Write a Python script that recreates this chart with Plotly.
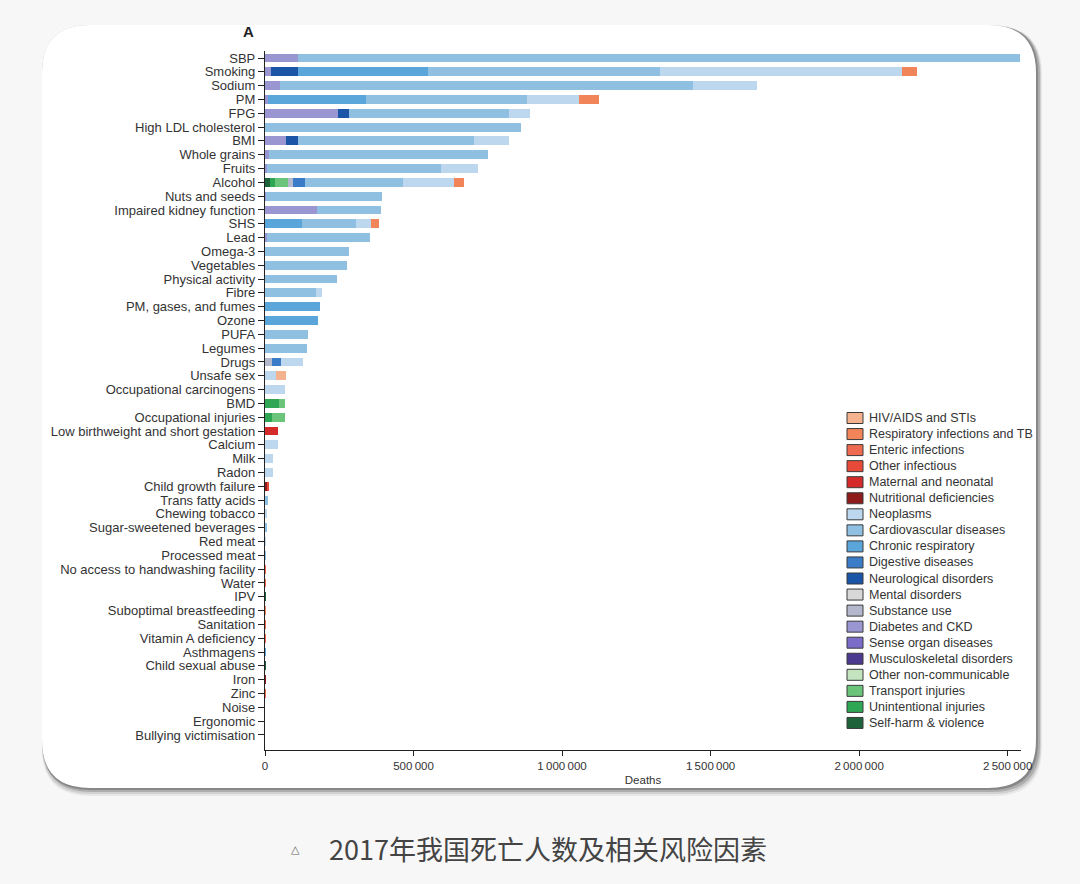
import plotly.graph_objects as go

# ---------------- data ----------------
categories = [
    "SBP", "Smoking", "Sodium", "PM", "FPG", "High LDL cholesterol", "BMI", "Whole grains", "Fruits", "Alcohol",
    "Nuts and seeds", "Impaired kidney function", "SHS", "Lead", "Omega-3", "Vegetables", "Physical activity", "Fibre", "PM, gases, and fumes", "Ozone",
    "PUFA", "Legumes", "Drugs", "Unsafe sex", "Occupational carcinogens", "BMD", "Occupational injuries", "Low birthweight and short gestation", "Calcium", "Milk",
    "Radon", "Child growth failure", "Trans fatty acids", "Chewing tobacco", "Sugar-sweetened beverages", "Red meat", "Processed meat", "No access to handwashing facility", "Water", "IPV",
    "Suboptimal breastfeeding", "Sanitation", "Vitamin A deficiency", "Asthmagens", "Child sexual abuse", "Iron", "Zinc", "Noise", "Ergonomic", "Bullying victimisation",
]

# deaths by cause group, one value per risk factor (same order as categories)
self_harm = [
    0, 0, 0, 0, 0, 0, 0, 0, 0, 17000,
    0, 0, 0, 0, 0, 0, 0, 0, 0, 0,
    0, 0, 0, 0, 0, 0, 0, 0, 0, 0,
    0, 0, 0, 0, 0, 0, 0, 0, 0, 500,
    0, 0, 0, 0, 300, 0, 0, 0, 0, 0,
]
unintentional = [
    0, 0, 0, 0, 0, 0, 0, 0, 0, 17000,
    0, 0, 0, 0, 0, 0, 0, 0, 0, 0,
    0, 0, 0, 0, 0, 47000, 22000, 0, 0, 0,
    0, 0, 0, 0, 0, 0, 0, 0, 0, 0,
    0, 0, 0, 0, 0, 0, 0, 0, 0, 0,
]
transport = [
    0, 0, 0, 0, 0, 0, 0, 0, 0, 45000,
    0, 0, 0, 0, 0, 0, 0, 0, 0, 0,
    0, 0, 0, 0, 0, 20000, 45000, 0, 0, 0,
    0, 0, 0, 0, 0, 0, 0, 0, 0, 0,
    0, 0, 0, 0, 0, 0, 0, 0, 0, 0,
]
other_ncd = [
    0, 0, 0, 0, 0, 0, 0, 0, 0, 0,
    0, 0, 0, 0, 0, 0, 0, 0, 0, 0,
    0, 0, 0, 0, 0, 0, 0, 0, 0, 0,
    0, 0, 0, 0, 0, 0, 0, 0, 0, 0,
    0, 0, 0, 0, 0, 0, 0, 0, 0, 0,
]
musculoskeletal = [
    0, 0, 0, 0, 0, 0, 0, 0, 0, 0,
    0, 0, 0, 0, 0, 0, 0, 0, 0, 0,
    0, 0, 0, 0, 0, 0, 0, 0, 0, 0,
    0, 0, 0, 0, 0, 0, 0, 0, 0, 0,
    0, 0, 0, 0, 0, 0, 0, 0, 0, 0,
]
sense_organ = [
    0, 0, 0, 0, 0, 0, 0, 0, 0, 0,
    0, 0, 0, 0, 0, 0, 0, 0, 0, 0,
    0, 0, 0, 0, 0, 0, 0, 0, 0, 0,
    0, 0, 0, 0, 0, 0, 0, 0, 0, 0,
    0, 0, 0, 0, 0, 0, 0, 0, 0, 0,
]
diabetes_ckd = [
    112000, 20000, 50000, 10000, 246000, 0, 69000, 13000, 6000, 0,
    5000, 175000, 0, 7000, 0, 0, 0, 0, 0, 0,
    0, 0, 0, 0, 0, 0, 0, 0, 0, 0,
    0, 0, 0, 0, 2000, 0, 0, 0, 0, 0,
    0, 0, 0, 0, 0, 0, 0, 0, 0, 0,
]
substance_use = [
    0, 0, 0, 0, 0, 0, 0, 0, 0, 15000,
    0, 0, 0, 0, 0, 0, 0, 0, 0, 0,
    0, 0, 22000, 0, 0, 0, 0, 0, 0, 0,
    0, 0, 0, 0, 0, 0, 0, 0, 0, 0,
    0, 0, 0, 0, 0, 0, 0, 0, 0, 0,
]
mental = [
    0, 0, 0, 0, 0, 0, 0, 0, 0, 0,
    0, 0, 0, 0, 0, 0, 0, 0, 0, 0,
    0, 0, 0, 0, 0, 0, 0, 0, 0, 0,
    0, 0, 0, 0, 0, 0, 0, 0, 0, 0,
    0, 0, 0, 0, 0, 0, 0, 0, 0, 0,
]
neurological = [
    0, 92000, 0, 0, 36000, 0, 43000, 0, 0, 0,
    0, 0, 0, 0, 0, 0, 0, 0, 0, 0,
    0, 0, 0, 0, 0, 0, 0, 0, 0, 0,
    0, 0, 0, 0, 0, 0, 0, 0, 0, 0,
    0, 0, 0, 0, 0, 0, 0, 0, 0, 0,
]
digestive = [
    0, 0, 0, 0, 0, 0, 0, 0, 0, 41000,
    0, 0, 0, 0, 0, 0, 0, 0, 0, 0,
    0, 0, 31000, 0, 0, 0, 0, 0, 0, 0,
    0, 0, 0, 0, 0, 0, 0, 0, 0, 0,
    0, 0, 0, 0, 0, 0, 0, 0, 0, 0,
]
chronic_resp = [
    0, 437000, 0, 330000, 0, 0, 0, 0, 0, 0,
    0, 0, 123000, 0, 0, 0, 0, 0, 186000, 177000,
    0, 0, 0, 0, 0, 0, 0, 0, 0, 0,
    0, 0, 0, 0, 0, 0, 0, 0, 0, 0,
    0, 0, 0, 500, 0, 0, 0, 0, 0, 0,
]
cardiovascular = [
    2429000, 781000, 1390000, 542000, 538000, 863000, 592000, 739000, 586000, 331000,
    388000, 215000, 183000, 348000, 284000, 277000, 244000, 170000, 0, 0,
    146000, 141000, 0, 0, 0, 0, 0, 0, 0, 0,
    0, 0, 9000, 0, 2000, 0, 1000, 0, 0, 0,
    0, 0, 0, 0, 0, 0, 0, 0, 0, 0,
]
neoplasms = [
    0, 814000, 215000, 174000, 71000, 0, 119000, 0, 124000, 171000,
    0, 0, 50000, 0, 0, 0, 0, 23000, 0, 0,
    0, 0, 75000, 36000, 67000, 0, 0, 0, 45000, 28000,
    28000, 0, 0, 6000, 0, 1000, 0, 0, 0, 0,
    0, 0, 0, 0, 0, 0, 0, 0, 0, 0,
]
nutritional = [
    0, 0, 0, 0, 0, 0, 0, 0, 0, 0,
    0, 0, 0, 0, 0, 0, 0, 0, 0, 0,
    0, 0, 0, 0, 0, 0, 0, 0, 0, 0,
    0, 6000, 0, 0, 0, 0, 0, 0, 0, 0,
    0, 0, 0, 0, 0, 100, 0, 0, 0, 0,
]
maternal_neonatal = [
    0, 0, 0, 0, 0, 0, 0, 0, 0, 0,
    0, 0, 0, 0, 0, 0, 0, 0, 0, 0,
    0, 0, 0, 0, 0, 0, 0, 44000, 0, 0,
    0, 0, 0, 0, 0, 0, 0, 0, 0, 0,
    0, 0, 0, 0, 0, 0, 0, 0, 0, 0,
]
other_infectious = [
    0, 0, 0, 0, 0, 0, 0, 0, 0, 0,
    0, 0, 0, 0, 0, 0, 0, 0, 0, 0,
    0, 0, 0, 0, 0, 0, 0, 0, 0, 0,
    0, 8000, 0, 0, 0, 0, 0, 0, 0, 0,
    0, 0, 0, 0, 0, 0, 0, 0, 0, 0,
]
enteric = [
    0, 0, 0, 0, 0, 0, 0, 0, 0, 0,
    0, 0, 0, 0, 0, 0, 0, 0, 0, 0,
    0, 0, 0, 0, 0, 0, 0, 0, 0, 0,
    0, 0, 0, 0, 0, 0, 0, 600, 800, 0,
    0, 400, 200, 0, 0, 0, 50, 0, 0, 0,
]
respiratory_inf = [
    0, 52000, 0, 67000, 0, 0, 0, 0, 0, 33000,
    0, 0, 28000, 0, 0, 0, 0, 0, 0, 0,
    0, 0, 0, 0, 0, 0, 0, 0, 0, 0,
    0, 0, 0, 0, 0, 0, 0, 0, 0, 0,
    500, 0, 0, 0, 0, 0, 0, 0, 0, 0,
]
hiv_sti = [
    0, 0, 0, 0, 0, 0, 0, 0, 0, 0,
    0, 0, 0, 0, 0, 0, 0, 0, 0, 0,
    0, 0, 0, 35000, 0, 0, 0, 0, 0, 0,
    0, 0, 0, 0, 0, 0, 0, 0, 0, 0,
    0, 0, 0, 0, 0, 0, 0, 0, 0, 0,
]

# legend order (top to bottom): name, colour, values
causes = [
    ("HIV/AIDS and STIs", "#f4b38e", hiv_sti),
    ("Respiratory infections and TB", "#f2845a", respiratory_inf),
    ("Enteric infections", "#ee6a50", enteric),
    ("Other infectious", "#e84a3a", other_infectious),
    ("Maternal and neonatal", "#d42a2a", maternal_neonatal),
    ("Nutritional deficiencies", "#8e1c1c", nutritional),
    ("Neoplasms", "#bcd7ee", neoplasms),
    ("Cardiovascular diseases", "#8fc0e2", cardiovascular),
    ("Chronic respiratory", "#5aa5da", chronic_resp),
    ("Digestive diseases", "#3a7cc8", digestive),
    ("Neurological disorders", "#1a55a8", neurological),
    ("Mental disorders", "#d8d8d8", mental),
    ("Substance use", "#b4b8cc", substance_use),
    ("Diabetes and CKD", "#9a96d2", diabetes_ckd),
    ("Sense organ diseases", "#7a6cc8", sense_organ),
    ("Musculoskeletal disorders", "#4b3a90", musculoskeletal),
    ("Other non-communicable", "#c4e4c0", other_ncd),
    ("Transport injuries", "#6ac47a", transport),
    ("Unintentional injuries", "#2ea654", unintentional),
    ("Self-harm & violence", "#1d6238", self_harm),
]
# stacking order, left to right along each bar
stack_order = [
    "Self-harm & violence", "Unintentional injuries", "Transport injuries", "Other non-communicable",
    "Musculoskeletal disorders", "Sense organ diseases", "Diabetes and CKD", "Substance use",
    "Mental disorders", "Neurological disorders", "Digestive diseases", "Chronic respiratory",
    "Cardiovascular diseases", "Neoplasms", "Nutritional deficiencies", "Maternal and neonatal",
    "Other infectious", "Enteric infections", "Respiratory infections and TB", "HIV/AIDS and STIs",
]

x_tickvals = [0, 500000, 1000000, 1500000, 2000000, 2500000]
x_ticktext = ["0", "500\u2009000", "1\u2009000\u2009000", "1\u2009500\u2009000", "2\u2009000\u2009000", "2\u2009500\u2009000"]

caption = "2017年我国死亡人数及相关风险因素"

# ---------------- layout helpers ----------------
W, H = 1080, 884
L, R, T, B = 265, 1021, 51, 750
FONT = "Liberation Sans, Arial, sans-serif"


def px(X):
    return (X - L) / (R - L)


def py(Y):
    return (B - Y) / (B - T)


def rrect(x0, y0, x1, y1, r):
    return (
        f"M {px(x0 + r)},{py(y0)} L {px(x1 - r)},{py(y0)} "
        f"Q {px(x1)},{py(y0)} {px(x1)},{py(y0 + r)} L {px(x1)},{py(y1 - r)} "
        f"Q {px(x1)},{py(y1)} {px(x1 - r)},{py(y1)} L {px(x0 + r)},{py(y1)} "
        f"Q {px(x0)},{py(y1)} {px(x0)},{py(y1 - r)} L {px(x0)},{py(y0 + r)} "
        f"Q {px(x0)},{py(y0)} {px(x0 + r)},{py(y0)} Z"
    )


fig = go.Figure()
lookup = {n: (c, v) for n, c, v in causes}
for name in stack_order:
    color, vals = lookup[name]
    fig.add_trace(go.Bar(
        y=categories, x=vals, orientation="h", name=name,
        marker=dict(color=color, line=dict(width=0)), showlegend=False,
    ))

shapes = []
# card shadow + card
cx0, cy0, cx1, cy1, cr = 42, 25, 1036, 788, 48
for dx0, dy0, dx1, dy1, op in [(0, 1, 6, 8, 0.06), (0, 1, 5, 6, 0.10), (1, 1, 4, 4, 0.16), (0, 0, 2, 2, 0.22)]:
    shapes.append(dict(type="path", xref="paper", yref="paper", layer="below",
                       path=rrect(cx0 + dx0, cy0 + dy0, cx1 + dx1, cy1 + dy1, cr),
                       fillcolor=f"rgba(0,0,0,{op})", line=dict(width=0)))
shapes.append(dict(type="path", xref="paper", yref="paper", layer="below",
                   path=rrect(cx0, cy0, cx1, cy1, cr), fillcolor="#ffffff", line=dict(width=0)))

annotations = []
# custom legend
leg_x0, leg_y0, leg_dy = 847, 418, 16.05
for i, (name, color, _) in enumerate(causes):
    yc = leg_y0 + i * leg_dy
    shapes.append(dict(type="rect", xref="paper", yref="paper",
                       x0=px(leg_x0), x1=px(leg_x0 + 16), y0=py(yc + 5.5), y1=py(yc - 5.5),
                       fillcolor=color, line=dict(color="#3a3a3a", width=1)))
    annotations.append(dict(xref="paper", yref="paper", x=px(leg_x0 + 20), y=py(yc),
                            xanchor="left", yanchor="middle", showarrow=False, text=name,
                            font=dict(family=FONT, size=12.5, color="#333333")))

annotations.append(dict(xref="paper", yref="paper", x=px(248), y=py(32), xanchor="center", yanchor="middle",
                        showarrow=False, text="<b>A</b>", font=dict(family=FONT, size=15, color="#222222")))
annotations.append(dict(xref="paper", yref="paper", x=px(295), y=py(849), xanchor="center", yanchor="middle",
                        showarrow=False, text="△", font=dict(family="DejaVu Sans", size=11, color="#666666")))
annotations.append(dict(xref="paper", yref="paper", x=px(327), y=py(848), xanchor="left", yanchor="middle",
                        showarrow=False, text=caption,
                        font=dict(family="Noto Sans CJK SC", size=27, color="#444444")))

fig.update_layout(
    width=W, height=H,
    margin=dict(l=L, r=W - R, t=T, b=H - B, pad=0),
    paper_bgcolor="#f7f7f7", plot_bgcolor="rgba(0,0,0,0)",
    barmode="stack", bargap=0.36,
    showlegend=False,
    shapes=shapes, annotations=annotations,
    xaxis=dict(
        range=[0, 2545000], tickvals=x_tickvals, ticktext=x_ticktext,
        showline=True, linecolor="#222222", linewidth=1.3, ticks="outside", ticklen=5,
        tickcolor="#222222", tickwidth=1.3, showgrid=False, zeroline=False,
        tickfont=dict(family=FONT, size=11.5, color="#333333"),
        title=dict(text="Deaths", font=dict(family=FONT, size=11.5, color="#333333"), standoff=4),
    ),
    yaxis=dict(
        type="category", categoryorder="array", categoryarray=categories,
        tickmode="array", tickvals=categories, ticktext=categories,
        range=[50.09, -0.507], showline=True, linecolor="#222222", linewidth=1.3,
        ticks="outside", ticklen=6, tickcolor="#222222", tickwidth=1.3,
        showgrid=False, zeroline=False,
        tickfont=dict(family=FONT, size=13, color="#333333"),
    ),
)

fig.write_html("out.html")
